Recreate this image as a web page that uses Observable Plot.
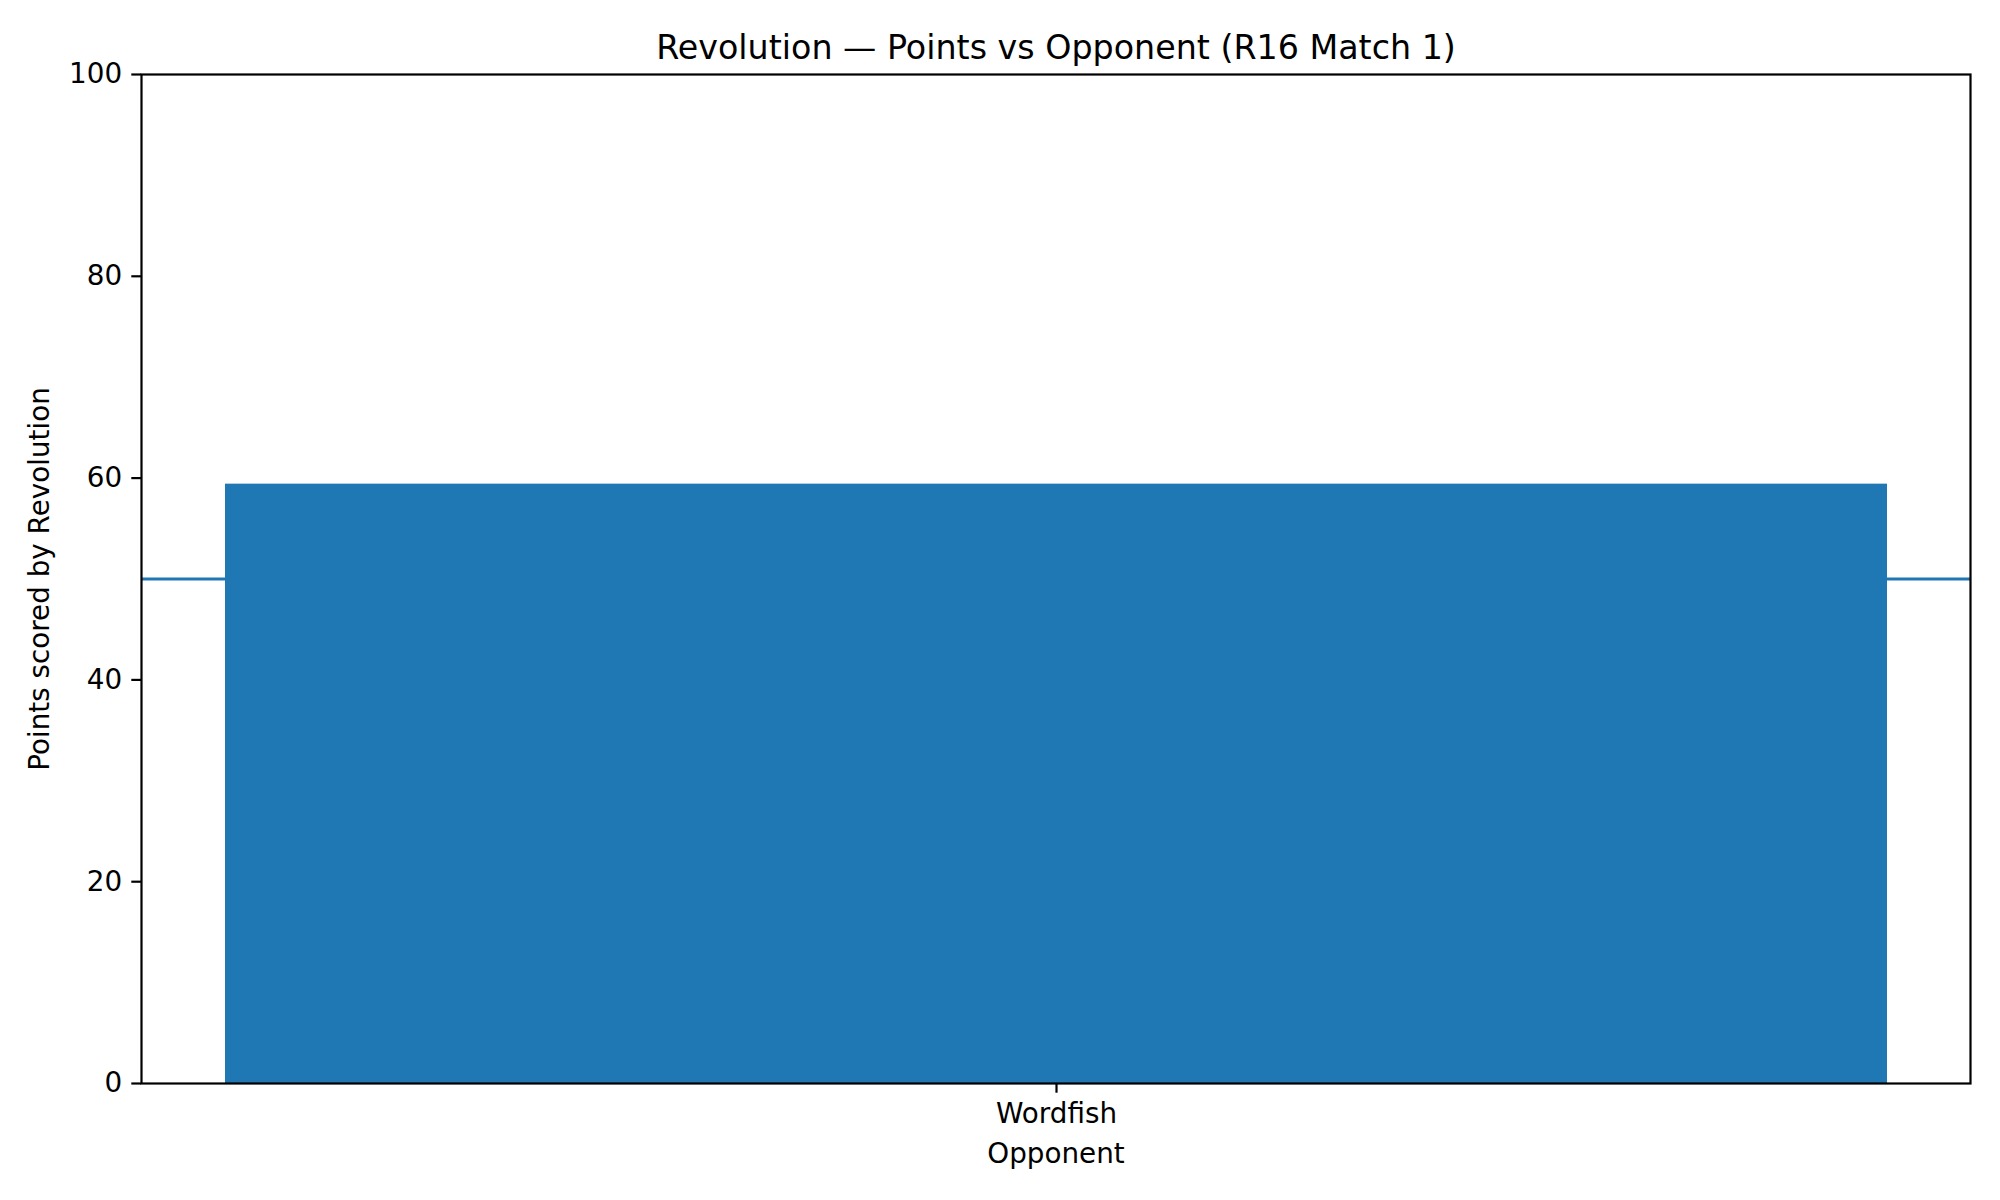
<!DOCTYPE html>
<html>
<head>
<meta charset="utf-8">
<script src="https://cdn.jsdelivr.net/npm/d3@7"></script>
<script src="https://cdn.jsdelivr.net/npm/@observablehq/plot@0.6"></script>
<style>
  html, body { margin: 0; padding: 0; background: #ffffff; }
  #chart { width: 2000px; height: 1200px; }
</style>
</head>
<body>
<div id="chart"></div>
<script>
const opponents = ["Wordfish"];
const points = [59.4];
const referenceLine = [50];
const yTicks = [0, 20, 40, 60, 80, 100];
const titleText = "Revolution \u2014 Points vs Opponent (R16 Match 1)";
const xLabel = "Opponent";
const yLabel = "Points scored by Revolution";

const data = opponents.map((o, i) => ({opponent: o, points: points[i]}));

const font = "'DejaVu Sans', sans-serif";
const fs = 27.8;

const chart = Plot.plot({
  width: 2000,
  height: 1200,
  marginLeft: 141,
  marginRight: 30,
  marginTop: 74,
  marginBottom: 117,
  style: {fontFamily: font, fontSize: fs + "px", background: "#ffffff", color: "#000000"},
  x: {type: "band", domain: opponents, paddingInner: 0, paddingOuter: 0.05, label: null},
  y: {domain: [0, 100], label: null},
  marks: [
    Plot.ruleY(referenceLine, {stroke: "#1f77b4", strokeWidth: 2.8}),
    Plot.barY(data, {x: "opponent", y: "points", fill: "#1f77b4"}),
    Plot.frame({stroke: "#000000", strokeWidth: 2.2}),
    Plot.axisY({ticks: yTicks, tickSize: 9.7, tickPadding: 9.7, strokeWidth: 2.2, fontSize: fs, label: null}),
    Plot.axisX({tickSize: 9.7, tickPadding: 10.5, strokeWidth: 2.2, fontSize: fs, label: null}),
    Plot.text([titleText], {text: d => d, frameAnchor: "top", dy: -16, lineAnchor: "bottom", textAnchor: "middle", fontSize: 33.3, fill: "#000000"}),
    Plot.text([xLabel], {text: d => d, frameAnchor: "bottom", dy: 79, lineAnchor: "bottom", textAnchor: "middle", fontSize: fs, fill: "#000000"}),
    Plot.text([yLabel], {text: d => d, frameAnchor: "left", dx: -101, rotate: -90, lineAnchor: "middle", textAnchor: "middle", fontSize: fs, fill: "#000000"})
  ]
});
document.getElementById("chart").appendChild(chart);
</script>
</body>
</html>
